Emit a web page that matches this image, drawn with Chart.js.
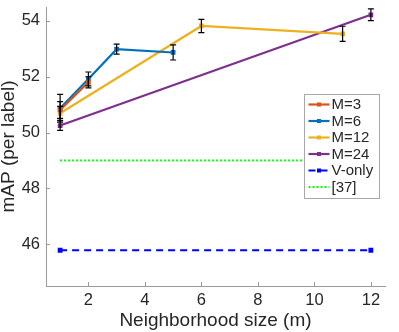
<!DOCTYPE html>
<html>
<head>
<meta charset="utf-8">
<script src="https://cdn.jsdelivr.net/npm/chart.js@4"></script>
<style>
html,body{margin:0;padding:0;background:#fff;}
#wrap{width:399px;height:332px;position:relative;}
</style>
</head>
<body>
<div id="wrap"><canvas id="c" width="399" height="332"></canvas></div>
<script>
// ---- data ----
const m3X = [1, 2];
const m3Y = [50.81, 51.8];
const m3Err = [0.3, 0.2];

const m6X = [1, 2, 3, 5];
const m6Y = [50.87, 51.92, 52.99, 52.87];
const m6Err = [0.5, 0.25, 0.18, 0.27];

const m12X = [1, 6, 11];
const m12Y = [50.69, 53.82, 53.54];
const m12Err = [0.25, 0.24, 0.27];

const m24X = [1, 12];
const m24Y = [50.25, 54.22];
const m24Err = [0.17, 0.21];

const vOnlyX = [1, 12];
const vOnlyY = [45.78, 45.78];

const ref37X = [1, 12];
const ref37Y = [49.0, 49.0];

const xTicks = [2, 4, 6, 8, 10, 12];
const yTicks = [46, 48, 50, 52, 54];
const legendLabels = ['M=3', 'M=6', 'M=12', 'M=24', 'V-only', '[37]'];

function pts(xs, ys){ return xs.map((x,i)=>({x:x, y:ys[i]})); }

const datasets = [
  {label:legendLabels[0], data:pts(m3X,m3Y), err:m3Err, borderColor:'#D95319', backgroundColor:'#D95319', borderWidth:2.2, pointStyle:'rect', pointRadius:1.8},
  {label:legendLabels[1], data:pts(m6X,m6Y), err:m6Err, borderColor:'#0072BD', backgroundColor:'#0072BD', borderWidth:2.2, pointStyle:'rect', pointRadius:1.8},
  {label:legendLabels[2], data:pts(m12X,m12Y), err:m12Err, borderColor:'#EDB120', backgroundColor:'#EDB120', borderWidth:2.2, pointStyle:'rect', pointRadius:1.8},
  {label:legendLabels[3], data:pts(m24X,m24Y), err:m24Err, borderColor:'#7E2F8E', backgroundColor:'#7E2F8E', borderWidth:2.2, pointStyle:'rect', pointRadius:1.8},
  {label:legendLabels[4], data:pts(vOnlyX,vOnlyY), borderColor:'#0000FF', backgroundColor:'#0000FF', borderWidth:2, borderDash:[7,5], pointStyle:'rect', pointRadius:2},
  {label:legendLabels[5], data:pts(ref37X,ref37Y), borderColor:'#00FF00', backgroundColor:'#00FF00', borderWidth:2, borderDash:[2,2], pointRadius:0}
];

const axisColor = '#9a9a9a';
const textColor = '#262626';
const FONT = '"Liberation Sans", Arial, sans-serif';

const plugin = {
  id:'matlabish',
  afterDatasetsDraw(chart){
    const ctx = chart.ctx;
    const xs = chart.scales.x, ys = chart.scales.y;
    ctx.save();
    ctx.strokeStyle = '#000';
    ctx.lineWidth = 1.2;
    chart.data.datasets.forEach(ds=>{
      if(!ds.err) return;
      ds.data.forEach((p,i)=>{
        const px = xs.getPixelForValue(p.x);
        const top = ys.getPixelForValue(p.y + ds.err[i]);
        const bot = ys.getPixelForValue(p.y - ds.err[i]);
        ctx.beginPath();
        ctx.moveTo(px, top); ctx.lineTo(px, bot);
        ctx.moveTo(px-3, top); ctx.lineTo(px+3, top);
        ctx.moveTo(px-3, bot); ctx.lineTo(px+3, bot);
        ctx.stroke();
      });
    });
    ctx.restore();
  },
  afterDraw(chart){
    const ctx = chart.ctx;
    const xs = chart.scales.x, ys = chart.scales.y;
    const a = chart.chartArea;
    ctx.save();
    // inward ticks
    ctx.strokeStyle = axisColor;
    ctx.lineWidth = 1;
    ctx.beginPath();
    yTicks.forEach(v=>{ const py = Math.round(ys.getPixelForValue(v))+0.5; ctx.moveTo(a.left, py); ctx.lineTo(a.left+4, py); });
    xTicks.forEach(v=>{ const px = Math.round(xs.getPixelForValue(v))+0.5; ctx.moveTo(px, a.bottom); ctx.lineTo(px, a.bottom-4); });
    ctx.stroke();

    // legend box
    const bx = 304.5, by = 94.5, bw = 75, bh = 104;
    ctx.fillStyle = '#fff';
    ctx.fillRect(bx, by, bw, bh);
    ctx.strokeStyle = '#a8a8a8';
    ctx.strokeRect(bx, by, bw, bh);
    ctx.font = '15px ' + FONT;
    ctx.textBaseline = 'middle';
    chart.data.datasets.forEach((ds,i)=>{
      const cy = by + 10 + i*16.5;
      ctx.strokeStyle = ds.borderColor;
      ctx.lineWidth = ds.borderWidth;
      ctx.setLineDash(ds.borderDash || []);
      ctx.beginPath(); ctx.moveTo(bx+4, cy); ctx.lineTo(bx+25, cy); ctx.stroke();
      ctx.setLineDash([]);
      if(ds.pointRadius>0){ ctx.fillStyle = ds.backgroundColor; ctx.fillRect(bx+14.5-2, cy-2, 4, 4); }
      ctx.fillStyle = textColor;
      ctx.fillText(ds.label, bx+27, cy+0.5);
    });
    ctx.restore();
  }
};

new Chart(document.getElementById('c'), {
  type:'line',
  data:{datasets:datasets},
  options:{
    responsive:false,
    animation:false,
    devicePixelRatio:1,
    layout:{padding:{left:0, right:14, top:7, bottom:0}},
    plugins:{legend:{display:false}, tooltip:{enabled:false}},
    elements:{line:{tension:0}},
    scales:{
      x:{
        type:'linear', min:0.5, max:12.5,
        afterBuildTicks:(s)=>{ s.ticks = xTicks.map(v=>({value:v})); },
        afterFit:(s)=>{ s.height = 46; s.paddingLeft = 0; s.paddingRight = 0; },
        grid:{display:false, drawTicks:false},
        border:{display:true, color:axisColor, width:1},
        ticks:{color:textColor, padding:4.5, maxRotation:0, font:{family:FONT, size:16.5}},
        title:{display:true, text:'Neighborhood size (m)', color:textColor, padding:{top:0, bottom:1.5}, font:{family:FONT, size:19, lineHeight:1}}
      },
      y:{
        type:'linear', min:44.5, max:54.5,
        afterBuildTicks:(s)=>{ s.ticks = yTicks.map(v=>({value:v})); },
        afterFit:(s)=>{ s.width = 46; s.paddingTop = 0; s.paddingBottom = 0; },
        grid:{display:false, drawTicks:false},
        border:{display:true, color:axisColor, width:1},
        ticks:{color:textColor, padding:6, font:{family:FONT, size:16.5}},
        title:{display:true, text:'mAP (per label)', color:textColor, padding:{top:-1, bottom:0}, font:{family:FONT, size:19, lineHeight:1}}
      }
    }
  },
  plugins:[plugin]
});
</script>
</body>
</html>
